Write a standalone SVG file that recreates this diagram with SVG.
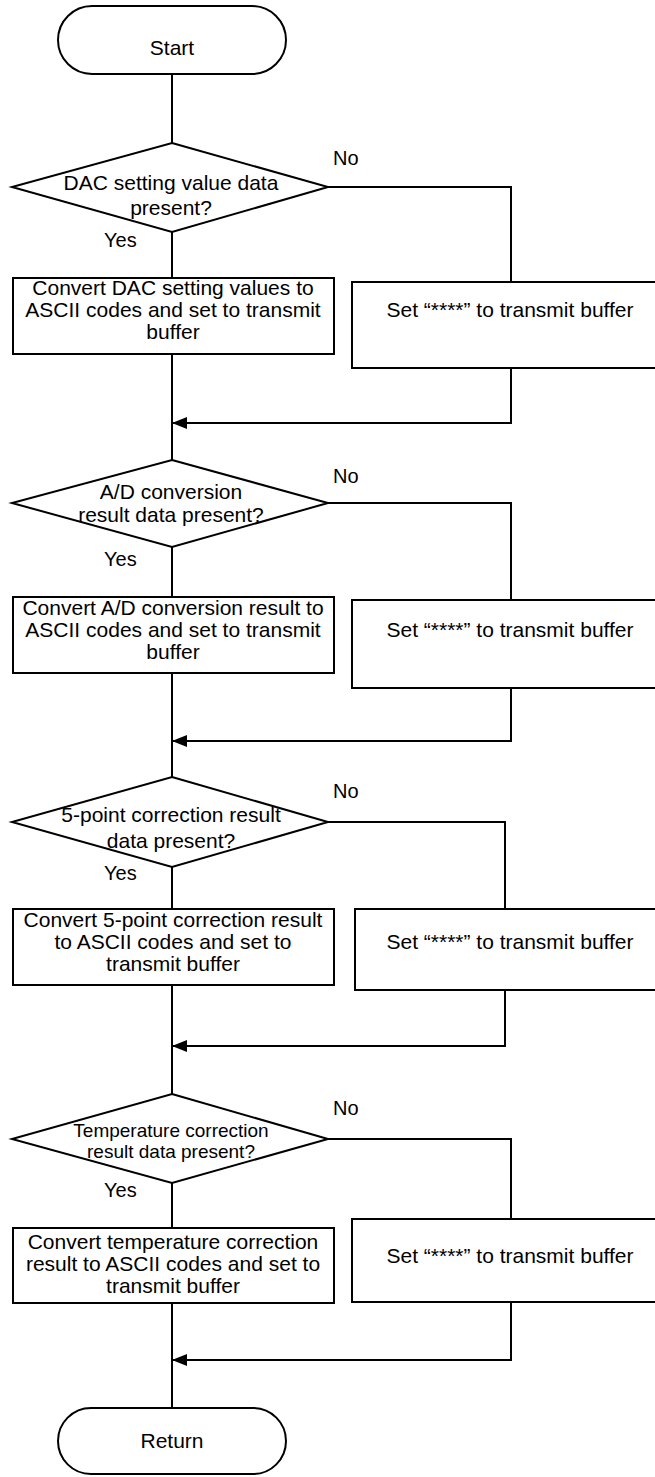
<svg xmlns="http://www.w3.org/2000/svg" width="655" height="1477" viewBox="0 0 655 1477">
  <style>
    .ln { fill: none; stroke: #000; stroke-width: 2; }
    .sh { fill: #fff; stroke: #000; stroke-width: 2; }
    text { font-family: "Liberation Sans", Arial, sans-serif; font-size: 21px; fill: #000; text-anchor: middle; }
    .lbl { text-anchor: start; font-size: 20px; }
    .sm { font-size: 19px; }
  </style>
  <defs>
    <marker id="ah" markerUnits="userSpaceOnUse" markerWidth="15" markerHeight="12" refX="14" refY="6" orient="auto">
      <path d="M0,0 L15,6 L0,12 z" fill="#000"/>
    </marker>
  </defs>

  <rect width="655" height="1477" fill="#fff"/>

  <!-- connectors -->
  <g id="connectors">
    <path class="ln" d="M172,74 V143"/>
    <path class="ln" d="M172,232 V278"/>
    <path class="ln" d="M172,354 V460"/>
    <path class="ln" d="M172,547 V597"/>
    <path class="ln" d="M172,673 V777"/>
    <path class="ln" d="M172,867 V909"/>
    <path class="ln" d="M172,985 V1094"/>
    <path class="ln" d="M172,1183 V1228"/>
    <path class="ln" d="M172,1303 V1408"/>

    <path class="ln" d="M328,187 H511 V282"/>
    <path class="ln" d="M511,368 V423 H173" marker-end="url(#ah)"/>
    <path class="ln" d="M328,503 H511 V600"/>
    <path class="ln" d="M511,688 V741 H173" marker-end="url(#ah)"/>
    <path class="ln" d="M328,822 H505 V909"/>
    <path class="ln" d="M505,990 V1046 H173" marker-end="url(#ah)"/>
    <path class="ln" d="M328,1139 H511 V1219"/>
    <path class="ln" d="M511,1302 V1360 H173" marker-end="url(#ah)"/>

    <text class="lbl" x="333" y="165">No</text>
    <text class="lbl" x="104" y="247">Yes</text>
    <text class="lbl" x="333" y="483">No</text>
    <text class="lbl" x="104" y="566">Yes</text>
    <text class="lbl" x="333" y="798">No</text>
    <text class="lbl" x="104" y="880">Yes</text>
    <text class="lbl" x="333" y="1115">No</text>
    <text class="lbl" x="104" y="1197">Yes</text>
  </g>

  <!-- start -->
  <g id="start">
    <rect class="sh" x="58" y="6" width="228" height="68" rx="34"/>
    <text x="172" y="54.5">Start</text>
  </g>

  <!-- block 1: DAC setting values -->
  <g id="dec-dac">
    <polygon class="sh" points="172,143 328,187 172,232 12,187"/>
    <text x="171" y="190">DAC setting value data</text>
    <text x="171" y="215">present?</text>
  </g>
  <g id="conv-dac">
    <rect class="sh" x="13" y="278" width="321" height="76"/>
    <text x="173" y="295">Convert DAC setting values to</text>
    <text x="173" y="317">ASCII codes and set to transmit</text>
    <text x="173" y="339">buffer</text>
  </g>
  <g id="set-dac">
    <rect class="sh" x="352" y="282" width="316" height="86"/>
    <text x="510" y="317">Set “****” to transmit buffer</text>
  </g>

  <!-- block 2: A/D conversion -->
  <g id="dec-ad">
    <polygon class="sh" points="172,460 328,503 172,547 12,503"/>
    <text x="171" y="499">A/D conversion</text>
    <text x="171" y="522">result data present?</text>
  </g>
  <g id="conv-ad">
    <rect class="sh" x="13" y="597" width="321" height="76"/>
    <text x="173" y="615">Convert A/D conversion result to</text>
    <text x="173" y="637">ASCII codes and set to transmit</text>
    <text x="173" y="659">buffer</text>
  </g>
  <g id="set-ad">
    <rect class="sh" x="352" y="600" width="316" height="88"/>
    <text x="510" y="637">Set “****” to transmit buffer</text>
  </g>

  <!-- block 3: 5-point correction -->
  <g id="dec-5pt">
    <polygon class="sh" points="172,777 328,822 172,867 12,822"/>
    <text x="171" y="822">5-point correction result</text>
    <text x="171" y="848">data present?</text>
  </g>
  <g id="conv-5pt">
    <rect class="sh" x="13" y="909" width="321" height="76"/>
    <text x="173" y="927">Convert 5-point correction result</text>
    <text x="173" y="949">to ASCII codes and set to</text>
    <text x="173" y="971">transmit buffer</text>
  </g>
  <g id="set-5pt">
    <rect class="sh" x="355" y="909" width="313" height="81"/>
    <text x="510" y="949">Set “****” to transmit buffer</text>
  </g>

  <!-- block 4: temperature correction -->
  <g id="dec-temp">
    <polygon class="sh" points="172,1094 328,1139 172,1183 12,1139"/>
    <text class="sm" x="171" y="1137">Temperature correction</text>
    <text class="sm" x="171" y="1158">result data present?</text>
  </g>
  <g id="conv-temp">
    <rect class="sh" x="13" y="1228" width="321" height="75"/>
    <text x="173" y="1249">Convert temperature correction</text>
    <text x="173" y="1271">result to ASCII codes and set to</text>
    <text x="173" y="1293">transmit buffer</text>
  </g>
  <g id="set-temp">
    <rect class="sh" x="352" y="1219" width="316" height="83"/>
    <text x="510" y="1263">Set “****” to transmit buffer</text>
  </g>

  <!-- return -->
  <g id="return">
    <rect class="sh" x="58" y="1408" width="228" height="66" rx="33"/>
    <text x="172" y="1448">Return</text>
  </g>
</svg>
